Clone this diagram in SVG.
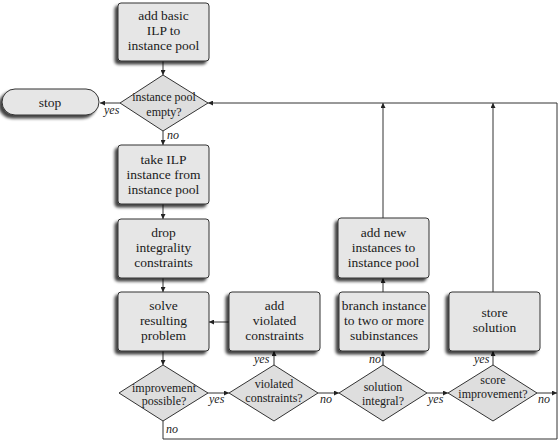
<svg xmlns="http://www.w3.org/2000/svg" width="560" height="442" viewBox="0 0 560 442">
<defs>
<filter id="sh" x="-20%" y="-20%" width="140%" height="150%">
<feGaussianBlur in="SourceAlpha" stdDeviation="1.8"/>
<feOffset dx="-3" dy="3" result="b"/>
<feComponentTransfer><feFuncA type="linear" slope="0.75"/></feComponentTransfer>
<feMerge><feMergeNode/><feMergeNode in="SourceGraphic"/></feMerge>
</filter>
<marker id="ah" viewBox="0 0 8 8" refX="8" refY="4" markerWidth="5" markerHeight="5" orient="auto" markerUnits="userSpaceOnUse">
<path d="M0,0 L8,4 L0,8 z" fill="#222"/>
</marker>
<style>
.box{fill:#e6e6e6;stroke:#333;stroke-width:1;filter:url(#sh)}
.dia{fill:#dedede;stroke:#333;stroke-width:1}
text{font-family:'Liberation Serif','DejaVu Serif',serif}
.t{font-size:13.5px;fill:#1a1a1a;text-anchor:middle}
.d{font-size:12px;fill:#1a1a1a;text-anchor:middle}
.l{font-size:12px;font-style:italic;fill:#222}
.c{fill:none;stroke:#333;stroke-width:1}
.a{marker-end:url(#ah)}
</style>
</defs>
<rect width="560" height="442" fill="#fff"/>

<g id="connectors">
<line class="c a" x1="163" y1="61" x2="163" y2="75"/>
<line class="c a" x1="120" y1="103" x2="100" y2="103"/>
<line class="c a" x1="163" y1="131" x2="163" y2="145"/>
<line class="c a" x1="163" y1="204" x2="163" y2="219"/>
<line class="c a" x1="163" y1="278" x2="163" y2="292"/>
<line class="c a" x1="163" y1="351" x2="163" y2="365"/>
<line class="c a" x1="208" y1="393" x2="229" y2="393"/>
<line class="c a" x1="274" y1="365" x2="274" y2="351"/>
<line class="c a" x1="229" y1="322" x2="209" y2="322"/>
<line class="c a" x1="318" y1="393" x2="339" y2="393"/>
<line class="c a" x1="383" y1="365" x2="383" y2="351"/>
<line class="c a" x1="383" y1="292" x2="383" y2="278"/>
<line class="c a" x1="383" y1="218" x2="383" y2="103"/>
<line class="c a" x1="427" y1="393" x2="448" y2="393"/>
<line class="c a" x1="493" y1="365" x2="493" y2="351"/>
<line class="c a" x1="493" y1="292" x2="493" y2="103"/>
<line class="c a" x1="537" y1="393" x2="557" y2="393"/>
<polyline class="c a" points="163,421 163,439 557,439 557,103 208,103"/>
<text class="l" x="104" y="114">yes</text>
<text class="l" x="167" y="139">no</text>
<text class="l" x="209" y="403">yes</text>
<text class="l" x="254" y="363">yes</text>
<text class="l" x="320" y="403">no</text>
<text class="l" x="369" y="363">no</text>
<text class="l" x="428" y="403">yes</text>
<text class="l" x="474" y="363">yes</text>
<text class="l" x="538" y="403">no</text>
<text class="l" x="166" y="433">no</text>
</g>

<g id="n-addbasic">
<rect class="box" x="118" y="3" width="91" height="58" rx="3"/>
<text class="t" x="163.5" y="20">add basic</text>
<text class="t" x="163.5" y="35">ILP  to</text>
<text class="t" x="163.5" y="50">instance pool</text>
</g>

<g id="n-empty">
<polygon class="dia" points="163,75 208,103 163,131 120,103"/>
<text class="d" x="164" y="101">instance pool</text>
<text class="d" x="164" y="116">empty?</text>
</g>

<g id="n-stop">
<rect class="box" x="2" y="89" width="97" height="26" rx="13"/>
<text class="t" x="50" y="107">stop</text>
</g>

<g id="n-take">
<rect class="box" x="118" y="145" width="91" height="59" rx="3"/>
<text class="t" x="163.5" y="164">take ILP</text>
<text class="t" x="163.5" y="179">instance from</text>
<text class="t" x="163.5" y="194">instance pool</text>
</g>

<g id="n-drop">
<rect class="box" x="118" y="219" width="91" height="59" rx="3"/>
<text class="t" x="163.5" y="237">drop</text>
<text class="t" x="163.5" y="252">integrality</text>
<text class="t" x="163.5" y="267">constraints</text>
</g>

<g id="n-solve">
<rect class="box" x="118" y="292" width="91" height="59" rx="3"/>
<text class="t" x="163.5" y="310">solve</text>
<text class="t" x="163.5" y="325">resulting</text>
<text class="t" x="163.5" y="340">problem</text>
</g>

<g id="n-addviol">
<rect class="box" x="229" y="292" width="91" height="59" rx="3"/>
<text class="t" x="274.5" y="310">add</text>
<text class="t" x="274.5" y="325">violated</text>
<text class="t" x="274.5" y="340">constraints</text>
</g>

<g id="n-addnew">
<rect class="box" x="338" y="218" width="91" height="60" rx="3"/>
<text class="t" x="383.5" y="237">add new</text>
<text class="t" x="383.5" y="252">instances to</text>
<text class="t" x="383.5" y="267">instance pool</text>
</g>

<g id="n-branch">
<rect class="box" x="339" y="292" width="90" height="59" rx="3"/>
<text class="t" x="384" y="310">branch instance</text>
<text class="t" x="384" y="325">to two or more</text>
<text class="t" x="384" y="340">subinstances</text>
</g>

<g id="n-store">
<rect class="box" x="449" y="292" width="91" height="59" rx="3"/>
<text class="t" x="494.5" y="317">store</text>
<text class="t" x="494.5" y="332">solution</text>
</g>

<g id="n-improve">
<polygon class="dia" points="163,365 208,393 163,421 119,393"/>
<text class="d" x="164" y="392">improvement</text>
<text class="d" x="164" y="405">possible?</text>
</g>

<g id="n-violated">
<polygon class="dia" points="274,365 318,393 274,421 229,393"/>
<text class="d" x="274" y="388">violated</text>
<text class="d" x="274" y="402">constraints?</text>
</g>

<g id="n-integral">
<polygon class="dia" points="383,365 427,393 383,421 339,393"/>
<text class="d" x="383" y="391">solution</text>
<text class="d" x="383" y="405">integral?</text>
</g>

<g id="n-score">
<polygon class="dia" points="493,365 537,393 493,421 448,393"/>
<text class="d" x="493" y="384">score</text>
<text class="d" x="493" y="398">improvement?</text>
</g>
</svg>
